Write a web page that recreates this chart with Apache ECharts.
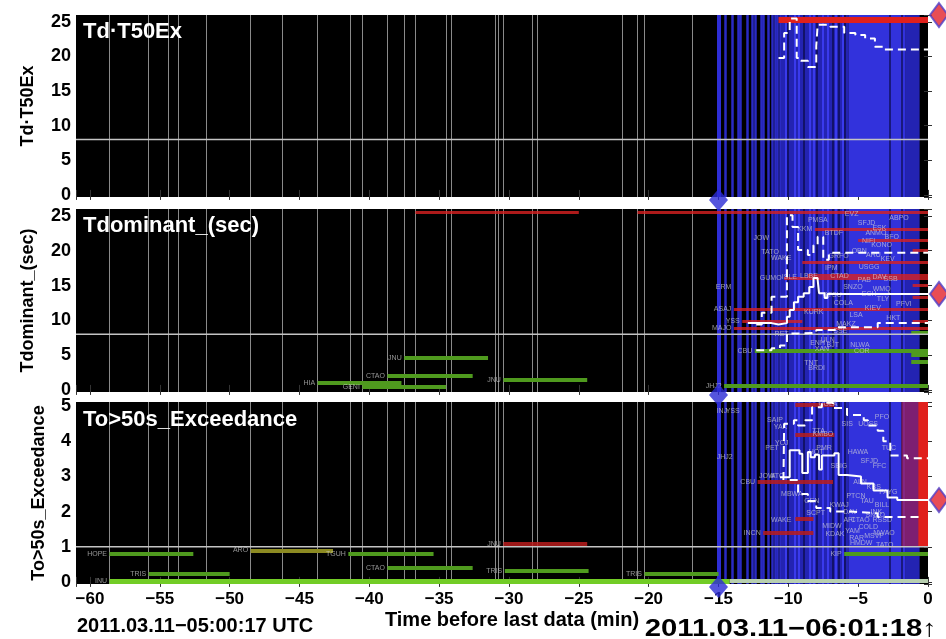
<!DOCTYPE html>
<html>
<head>
<meta charset="utf-8">
<script src="https://cdn.jsdelivr.net/npm/echarts@6/dist/echarts.min.js"></script>
<style>
html,body{margin:0;padding:0;background:#fff;}
#chart{width:946px;height:639px;}
</style>
</head>
<body>
<div id="chart"></div>
<script>
// ---------- time axis (minutes before last data) ----------
const timeMin = -61;
const timeMax = 0;

// ---------- panels ----------
const panelNames = ['Td\u00b7T50Ex', 'Tdominant_(sec)', 'To>50s_Exceedance'];
const panelYMin = [-0.3, -0.3, -0.06];
const panelYMax = [26, 26, 5.12];
const panelStep = [5, 5, 1];
const thresholds = [8, 8, 1];
const latestValues = [26, 13.8, 2.33];

// ---------- station pick times (grey) ----------
const stationTimes = [-58.6, -55.8, -54.4, -53.7, -51.7, -48.5, -46.2, -43.7, -41.4, -40.5,
  -38.7, -37.5, -36.7, -34.5, -34.1, -31.0, -30.8, -30.4, -28.3, -28.0, -21.9, -20.8, -20.3, -16.9];

// ---------- alert times (blue) ----------
const alertMain = -15;
const alertTimes = [-14.5, -14.0, -13.6, -13.45, -12.95, -12.6, -12.4, -11.95, -11.8, -11.45,
  -11.15, -10.95, -10.8, -10.6];
const alertBandsDim = [[-10.5, -5.7], [-1.6, -0.6]];
const alertBandsBright = [[-5.7, -1.6]];
const alertStrokes = [-10.2, -9.55, -9.25, -8.45, -8.2, -7.5, -7.2, -6.6, -6.1];
const alertGaps = [-10.05, -8.9, -7.95, -6.8, -6.4, -5.95, -2.75, -1.85];

// ---------- Td*T50Ex ----------
const td1Red = [['', -10.7, 0, 25.3]];
const td1Upper = [[-10.7, 19.8], [-10.3, 23.4], [-9.9, 25.5], [-9.4, 19.8], [-9.1, 19.4], [-8.6, 18.5],
  [-8.0, 21.5], [-7.9, 24.6], [-7.0, 24.3], [-6.0, 23.4], [-5.2, 23.1], [-4.5, 22.6], [-3.8, 21.4],
  [-3.1, 21.0], [0, 21.0]];

// ---------- Tdominant ----------
const td2Green = [
  ['HIA', -43.7, -37.7, 1.0], ['GENI', -40.5, -34.5, 0.45], ['CTAO', -38.7, -32.6, 2.0],
  ['JNU', -37.5, -31.5, 4.6], ['JNU', -30.4, -24.4, 1.4], ['CBU', -12.4, 0, 5.6],
  ['JHJ2', -14.6, 0, 0.6], ['', -1.2, 0, 8.2], ['', -1.2, 0, 5.0], ['', -1.2, 0, 4.0]
];
const td2Red = [
  ['', -36.7, -25.0, 25.6], ['', -20.8, 0, 25.6], ['ASAJ', -13.9, 0, 11.6], ['YSS', -13.3, -9.0, 9.9],
  ['MAJO', -13.9, 0, 8.9], ['KKM', -8.1, 0, 23.1], ['', -5.0, 0, 21.5], ['', -9.0, 0, 18.4],
  ['', -8.6, 0, 16.5], ['GUMO', -10.3, 0, 16.1],
  ['', -1.1, 0, 20.0], ['', -1.1, 0, 15.0], ['', -1.1, 0, 13.3], ['', -1.1, 0, 9.9]
];
const td2Labels = [
  ['ERM', -13.9, 14.8], ['JOW', -11.2, 21.8], ['TATO', -10.5, 19.8], ['WAKE', -9.6, 19.0],
  ['ISLE', -9.2, 16.2], ['LBBE', -7.7, 16.4], ['PMSA', -7.0, 24.4], ['BTDF', -5.9, 22.5],
  ['IPM', -6.3, 17.5], ['CTAD', -5.5, 16.4], ['EVZ', -4.8, 25.3], ['SFJD', -3.6, 24.0],
  ['ABPO', -1.2, 24.7], ['ANMO', -2.8, 22.6], ['NIFI', -3.6, 21.4], ['USGG', -3.3, 17.6],
  ['DAV', -2.8, 16.2], ['KURK', -7.3, 11.2], ['CTSU', -6.0, 13.6], ['PFVI', -1.0, 12.3],
  ['HKT', -1.8, 10.3], ['RET', -9.8, 8.0], ['TNT', -7.7, 3.9], ['BRDI', -7.2, 3.1],
  ['NLWA', -4.0, 6.5], ['COR', -4.0, 5.6], ['SNZO', -4.5, 14.8], ['KEV', -2.2, 18.8],
  ['TLY', -2.6, 13.0], ['KIEV', -3.2, 11.8], ['COLA', -5.2, 12.5], ['MAKZ', -5.0, 9.5],
  ['SSE', -5.6, 8.5], ['ULN', -6.5, 7.2], ['BJT', -6.2, 6.5], ['XAN', -6.9, 5.8],
  ['ENH', -7.2, 6.8], ['LSA', -4.5, 10.8], ['WMQ', -2.5, 14.5], ['ARU', -3.2, 19.4],
  ['OBN', -4.2, 20.0], ['KONO', -2.4, 20.8], ['BFO', -1.9, 22.0], ['ESK', -2.8, 23.3],
  ['GRFO', -5.5, 19.2], ['PAB', -3.9, 15.8], ['ECH', -3.5, 13.8], ['SSB', -2.0, 16.0]
];
const td2Upper = [[-12.3, 9.4], [-11.9, 11.1], [-11.2, 13.4], [-10.1, 25.1], [-9.7, 23.4], [-9.3, 20.1],
  [-8.6, 19.4], [-8.2, 20.8], [-7.9, 22.0], [-7.5, 18.7], [-7.1, 19.7], [0, 19.7]];
const td2Lower = [[-12.3, 5.7], [-11.2, 6.0], [-10.6, 6.4], [-10.1, 8.1], [-9.6, 8.2], [-8.0, 8.6],
  [-6.5, 9.0], [-3.6, 9.6], [0, 9.6]];
const td2Mean = [[-12.9, 9.6], [-11.2, 9.4], [-10.7, 9.6], [-10.1, 10.5], [-9.9, 11.5], [-9.6, 12.6],
  [-9.3, 13.4], [-8.9, 13.9], [-8.5, 14.8], [-8.2, 16.1], [-7.9, 15.8], [-7.8, 13.9], [-7.4, 13.2],
  [-7.2, 13.8], [0, 13.8]];

// ---------- To>50s exceedance ----------
const td3Green = [
  ['HOPE', -58.6, -52.6, 0.8], ['TRIS', -55.8, -50.0, 0.23], ['TGUH', -41.5, -35.4, 0.8],
  ['CTAO', -38.7, -32.6, 0.4], ['TRIS', -30.3, -24.3, 0.31], ['TRIS', -20.3, -15.0, 0.23],
  ['KIP', -6.0, 0, 0.8]
];
const td3Olive = [['ARO', -48.5, -42.6, 0.9]];
const td3Red = [
  ['JNU', -30.4, -24.4, 1.08], ['', -9.5, -6.7, 5.05], ['', -9.5, -6.7, 4.2],
  ['CBU', -12.2, -6.8, 2.85], ['INCN', -11.8, -8.2, 1.4], ['', -9.5, -8.2, 1.8]
];
const td3Base = [['INU', -58.6, -14.2, 0.02]];
const td3BaseLate = [['', -14.2, 0, 0.02]];
const td3Labels = [
  ['INJ', -14.2, 4.86], ['YSS', -13.3, 4.86], ['SAIP', -10.2, 4.6], ['YAK', -9.9, 4.4],
  ['PET', -10.5, 3.8], ['YOJ', -9.8, 3.95], ['JHJ2', -13.8, 3.55], ['JOW', -10.8, 3.0],
  ['ATO', -10.1, 3.0], ['MBWA', -8.8, 2.5], ['WAKE', -9.6, 1.75], ['KDAK', -5.8, 1.35],
  ['HMDW', -3.8, 1.1], ['TATO', -2.3, 1.05], ['PFO', -2.6, 4.7], ['TUC', -2.1, 3.8],
  ['HAWA', -4.1, 3.7], ['SBIG', -5.6, 3.3], ['UOSS', -3.4, 4.5], ['SIS', -5.2, 4.5],
  ['COLA', -6.3, 5.05], ['TTA', -7.2, 4.3], ['KMBO', -6.6, 4.2], ['PMR', -6.7, 3.8],
  ['HOT', -7.3, 3.7], ['SFJD', -3.4, 3.45], ['FFC', -2.8, 3.3], ['ALN', -4.2, 2.85],
  ['KBS', -3.2, 2.7], ['GEN', -7.6, 2.3], ['SCPT', -7.2, 1.95], ['KWAJ', -5.5, 2.2],
  ['BILL', -2.6, 2.2], ['COLD', -3.4, 1.55], ['RSSD', -2.4, 1.75], ['MIDW', -6.0, 1.6],
  ['YAM', -4.7, 1.45], ['INK', -3.1, 2.0], ['PTCN', -4.3, 2.45], ['PAYG', -2.0, 2.55],
  ['DAV', -4.9, 2.0], ['TAU', -3.7, 2.3], ['SNZO', -2.9, 1.9], ['CTAO', -4.0, 1.75],
  ['NWAO', -2.2, 1.4], ['MSVF', -3.0, 1.3], ['AFI', -5.1, 1.75], ['RAR', -4.4, 1.25]
];
const td3Upper = [[-10.35, 2.9], [-10.3, 4.5], [-9.6, 4.6], [-9.3, 4.45], [-8.8, 4.6], [-8.3, 4.97],
  [-7.6, 5.1], [-6.8, 4.95], [-5.8, 4.75], [-4.6, 4.6], [-4.3, 4.45], [-3.6, 4.3], [-3.2, 4.0],
  [-2.7, 3.6], [-1.5, 3.52], [0, 3.52]];
const td3Lower = [[-9.9, 2.9], [-9.3, 2.5], [-8.6, 2.3], [-8.0, 2.1], [-7.0, 2.0], [-5.5, 1.95],
  [-3.6, 1.85], [-0.4, 1.85]];
const td3Mean = [[-10.6, 2.98], [-9.9, 3.75], [-9.2, 3.65], [-9.0, 3.1], [-8.6, 3.7], [-8.4, 3.55],
  [-8.1, 3.62], [-7.8, 3.2], [-7.6, 3.6], [-6.7, 3.66], [-6.4, 3.04], [-5.8, 3.0], [-4.8, 2.8],
  [-3.9, 2.6], [-2.9, 2.4], [-2.2, 2.33], [0, 2.33]];
const td3EdgeRed = [[-0.7, 0, 1.0, 5.12]];
const td3EdgeMix = [[-1.9, -0.7, 1.0, 5.12]];

// ---------- drawing ----------
const FONT = '"Liberation Sans", Arial, Helvetica, sans-serif';
const chart = echarts.init(document.getElementById('chart'), null, {renderer: 'canvas'});

const gridBoxes = [
  {top: 15, height: 182},
  {top: 209, height: 183},
  {top: 402, height: 182}
];
const grids = gridBoxes.map(b => ({
  left: 76, right: 18, top: b.top, height: b.height,
  show: true, backgroundColor: '#000', borderWidth: 0
}));

function timeLabel(v) {
  if (Math.abs(v % 5) > 1e-6) return '';
  return Math.abs(v) < 1e-9 ? '0' : '\u2212' + Math.abs(v);
}

const xAxes = [];
const yAxes = [];
for (let i = 0; i < 3; i++) {
  const tick = {show: true, length: 5, lineStyle: {color: '#333', width: 1}};
  xAxes.push({
    type: 'value', gridIndex: i, min: timeMin, max: timeMax, splitNumber: 12, position: 'bottom',
    axisLine: {show: false}, splitLine: {show: false}, axisTick: tick,
    axisLabel: {show: i === 2, formatter: timeLabel, fontSize: 17, fontWeight: 'bold', color: '#000',
      fontFamily: FONT, margin: 7}
  });
  xAxes.push({
    type: 'value', gridIndex: i, min: timeMin, max: timeMax, splitNumber: 12, position: 'top',
    axisLine: {show: false}, splitLine: {show: false}, axisTick: tick, axisLabel: {show: false}
  });
  const step = panelStep[i];
  const yl = v => {
    const r = Math.round(v / step) * step;
    return Math.abs(v - r) < 1e-6 ? String(r) : '';
  };
  yAxes.push({
    type: 'value', gridIndex: i, min: panelYMin[i], max: panelYMax[i], splitNumber: 5, position: 'left',
    axisLine: {show: false}, splitLine: {show: false}, axisTick: {show: true, length: 4, lineStyle: {color: '#333'}},
    axisLabel: {formatter: yl, fontSize: 18, fontWeight: 'bold', color: '#000', fontFamily: FONT, margin: 5},
    name: panelNames[i], nameLocation: 'middle', nameGap: i === 2 ? 28 : 39, nameRotate: 90,
    nameTextStyle: {fontSize: 18, fontWeight: 'bold', color: '#000', fontFamily: FONT}
  });
  yAxes.push({
    type: 'value', gridIndex: i, min: panelYMin[i], max: panelYMax[i], splitNumber: 5, position: 'right',
    axisLine: {show: false}, splitLine: {show: false}, axisTick: {show: true, length: 4, lineStyle: {color: '#333'}},
    axisLabel: {show: false}
  });
}

const series = [];
function ax(i) { return {xAxisIndex: 2 * i, yAxisIndex: 2 * i}; }

function verticals(i, times, color, width, z, opacity) {
  series.push(Object.assign({
    type: 'lines', coordinateSystem: 'cartesian2d', polyline: false, silent: true, z,
    lineStyle: {color, width, opacity: opacity == null ? 1 : opacity},
    data: times.map(t => ({coords: [[t, panelYMin[i]], [t, panelYMax[i]]]}))
  }, ax(i)));
}

function bands(i, list, fill, z) {
  series.push(Object.assign({
    type: 'custom', silent: true, z, clip: true,
    data: list.map(b => [b[0], b[1], b.length > 2 ? b[2] : panelYMin[i], b.length > 3 ? b[3] : panelYMax[i]]),
    encode: {x: [0, 1], y: [2, 3]},
    renderItem: (params, api) => {
      const a = api.coord([api.value(0), api.value(3)]);
      const b = api.coord([api.value(1), api.value(2)]);
      return {type: 'rect', shape: {x: a[0], y: a[1], width: b[0] - a[0], height: b[1] - a[1]},
        style: {fill}};
    }
  }, ax(i)));
}

function segments(i, list, color, width, z, opacity) {
  series.push(Object.assign({
    type: 'lines', coordinateSystem: 'cartesian2d', polyline: false, silent: true, z,
    lineStyle: {color, width, opacity: opacity == null ? 1 : opacity},
    data: list.map(s => ({coords: [[s[1], s[3]], [s[2], s[3]]]}))
  }, ax(i)));
  const named = list.filter(s => s[0]);
  if (named.length) labels(i, named.map(s => [s[0], s[1], s[3]]), z + 1);
}

function labels(i, list, z) {
  series.push(Object.assign({
    type: 'scatter', silent: true, z, clip: true, symbolSize: 1,
    itemStyle: {color: 'rgba(0,0,0,0)'},
    label: {show: true, position: 'left', distance: 2, formatter: p => p.data[2],
      color: 'rgba(215,215,215,0.85)', fontSize: 7, fontFamily: FONT},
    data: list.map(l => [l[1], l[2], l[0]])
  }, ax(i)));
}

function stepLine(i, pts, dashed, z) {
  series.push(Object.assign({
    type: 'line', step: 'end', showSymbol: false, silent: true, z, clip: true,
    lineStyle: {color: '#fff', width: 2, type: dashed ? [8, 5] : 'solid'},
    data: pts
  }, ax(i)));
}

for (let i = 0; i < 3; i++) {
  verticals(i, stationTimes, '#8a8a8a', 1, 2);
  bands(i, alertBandsDim, '#2323b2', 3);
  bands(i, alertBandsBright, '#3232dc', 3);
  verticals(i, alertTimes, '#2a2ac4', 2.5, 4);
  verticals(i, alertStrokes, '#3a3aec', 2, 4);
  verticals(i, alertGaps, 'rgba(5,5,50,0.75)', 1.5, 4);
  verticals(i, [alertMain], '#2e2ed6', 4, 4);
}

// Td*T50Ex
segments(0, td1Red, '#e0201c', 6, 5);
stepLine(0, td1Upper, true, 8);

// Tdominant
segments(1, td2Green, '#4f9a1e', 4, 5);
segments(1, td2Red, '#d82020', 3, 5, 0.8);
labels(1, td2Labels, 6);
stepLine(1, td2Upper, true, 8);
stepLine(1, td2Lower, true, 8);
stepLine(1, td2Mean, false, 8);

// To>50s exceedance
bands(2, td3EdgeMix, 'rgba(200,30,60,0.55)', 4);
bands(2, td3EdgeRed, '#e0201c', 4);
segments(2, td3Green, '#4f9a1e', 4, 5);
segments(2, td3Olive, '#8c8a22', 4, 5);
segments(2, td3Red, '#b81c1c', 4, 5, 0.85);
segments(2, td3Base, '#72cc26', 5, 5);
segments(2, td3BaseLate, '#b8cfb0', 4, 5);
labels(2, td3Labels, 6);
stepLine(2, td3Upper, true, 8);
stepLine(2, td3Lower, true, 8);
stepLine(2, td3Mean, false, 8);

for (let i = 0; i < 3; i++) {
  // threshold line
  series.push(Object.assign({
    type: 'line', showSymbol: false, silent: true, z: 7,
    lineStyle: {color: '#c4c4c4', width: 1.5},
    data: [[timeMin, thresholds[i]], [timeMax, thresholds[i]]]
  }, ax(i)));
  // alert marker
  series.push(Object.assign({
    type: 'scatter', silent: true, z: 10, clip: false, symbol: 'diamond', symbolSize: [19, 22],
    symbolOffset: [0, 3], itemStyle: {color: '#2b2bd4'},
    data: [[alertMain, panelYMin[i]]]
  }, ax(i)));
  // latest value marker
  series.push(Object.assign({
    type: 'scatter', silent: true, z: 10, clip: false, symbol: 'diamond', symbolSize: [18, 24],
    symbolOffset: [11, 0], itemStyle: {color: '#e2202a', borderColor: '#5040c8', borderWidth: 2},
    data: [[timeMax, latestValues[i]]]
  }, ax(i)));
}

const titleTops = [33, 227, 421];
const graphic = panelNames.map((n, i) => ({
  type: 'text', left: 83, top: titleTops[i] - 12, silent: true, z: 100,
  style: {text: n, fill: '#fff', font: 'bold 22px ' + FONT}
}));
graphic.push({
  type: 'text', x: 77, y: 626, silent: true,
  style: {text: '2011.03.11\u221205:00:17 UTC', fill: '#000', font: 'bold 20px ' + FONT,
    textAlign: 'left', textVerticalAlign: 'middle'}
});
graphic.push({
  type: 'text', x: 512, y: 620, silent: true,
  style: {text: 'Time before last data (min)', fill: '#000', font: 'bold 20px ' + FONT,
    textAlign: 'center', textVerticalAlign: 'middle'}
});
graphic.push({
  type: 'text', x: 937, y: 629, scaleX: 1.22, originX: 0, originY: 0, silent: true,
  style: {text: '2011.03.11\u221206:01:18\u2191', fill: '#000', font: 'bold 24px ' + FONT,
    textAlign: 'right', textVerticalAlign: 'middle'}
});

chart.setOption({
  animation: false,
  backgroundColor: '#fff',
  grid: grids,
  xAxis: xAxes,
  yAxis: yAxes,
  series,
  graphic
});
</script>
</body>
</html>
